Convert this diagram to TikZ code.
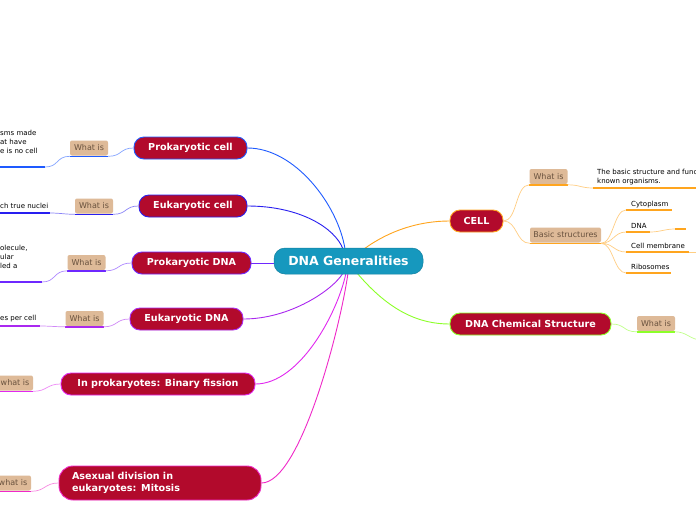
\documentclass[tikz,border=0pt]{standalone}
\usepackage{fontspec}
\setmainfont{DejaVu Sans}
\definecolor{redf}{RGB}{178,10,44}
\definecolor{teal1}{RGB}{22,152,190}
\definecolor{tanf}{RGB}{222,186,152}
\definecolor{tant}{RGB}{105,82,62}
\definecolor{bA}{RGB}{30,90,255}
\definecolor{bB}{RGB}{40,30,240}
\definecolor{bC}{RGB}{110,40,255}
\definecolor{bD}{RGB}{170,40,240}
\definecolor{bE}{RGB}{225,40,240}
\definecolor{bF}{RGB}{240,40,200}
\definecolor{orA}{RGB}{255,165,30}
\definecolor{grA}{RGB}{140,255,40}
\tikzset{
  mainbox/.style={rounded corners=10pt, fill=redf, text=white, font=\bfseries\fontsize{9.6}{12}\selectfont, line width=0.9pt, minimum height=22pt, inner sep=0pt},
  whatbox/.style={rounded corners=2pt, fill=tanf, text=tant, font=\fontsize{8}{8}\selectfont, minimum height=15pt, minimum width=38pt, inner sep=1pt},
  leaftext/.style={font=\fontsize{7}{9}\selectfont, align=left, inner sep=0pt, text=black},
  uline/.style={line width=1.4pt, #1},
  conn/.style={line width=0.9pt, #1},
  sub/.style={line width=0.7pt, #1!55},
}
\begin{document}
\begin{tikzpicture}[x=1pt,y=-1pt]
\useasboundingbox (0,0) rectangle (696,520);
\clip (0,0) rectangle (696,520);
\fill[white] (0,0) rectangle (696,520);

% coordinates on central node
\coordinate (cT1) at (345,249);
\coordinate (cT2) at (343,249);
\coordinate (cT3) at (364,249);
\coordinate (cB1) at (343,273);
\coordinate (cB2) at (346,273);
\coordinate (cB3) at (348,273);
\coordinate (cB4) at (357,273);

\node[mainbox, draw=bA, minimum width=113pt] (pc) at (190.5,148) {Prokaryotic cell};
\node[mainbox, draw=bB, minimum width=108pt] (ec) at (193,206) {Eukaryotic cell};
\node[mainbox, draw=bC, minimum width=119pt] (pd) at (191.5,263) {Prokaryotic DNA};
\node[mainbox, draw=bD, minimum width=113pt] (ed) at (186.5,319) {Eukaryotic DNA};
\node[mainbox, draw=bE, minimum width=194pt] (bf) at (158,384) {In prokaryotes: Binary fission};
\node[mainbox, draw=bF, minimum height=34pt, rounded corners=14pt, align=left, text width=176pt, inner xsep=13pt] (mi) at (160,483) {Asexual division in\\eukaryotes: Mitosis};
\node[mainbox, draw=orA, minimum width=53pt] (cell) at (476.5,221) {CELL};
\node[mainbox, draw=grA, minimum width=161pt] (dcs) at (530.5,324) {DNA Chemical Structure};

% main connectors
\draw[conn=bA] (pc.east) .. controls (295,148) and (338,205) .. (cT1);
\draw[conn=bB] (ec.east) .. controls (300,206) and (335,228) .. (cT2);
\draw[conn=bC] (pd.east) -- (274,263);
\draw[conn=bD] (ed.east) .. controls (290,319) and (333,290) .. (cB1);
\draw[conn=bE] (bf.east) .. controls (300,384) and (338,312) .. (cB2);
\draw[conn=bF] (mi.east) .. controls (300,483) and (340,330) .. (cB3);
\draw[conn=orA] (cT3) .. controls (390,230) and (420,221) .. (cell.west);
\draw[conn=grA] (cB4) .. controls (390,312) and (420,324) .. (dcs.west);

\node[rounded corners=11pt, fill=teal1, draw=teal1!85!black, line width=0.5pt, text=white, font=\bfseries\fontsize{12.5}{14}\selectfont, minimum width=149pt, minimum height=26pt, inner sep=0pt] (c) at (348.5,261) {DNA Generalities};

% What is nodes
\node[whatbox] (w1) at (89,148) {What is};
\node[whatbox] (w2) at (94,206) {What is};
\node[whatbox] (w3) at (86.5,262.5) {What is};
\node[whatbox] (w4) at (84.5,318.5) {What is};
\node[whatbox, minimum width=36pt] (w5) at (15,383) {what is};
\node[whatbox, minimum width=36pt] (w6) at (13,483) {what is};
\node[whatbox] (w7) at (548.5,176.5) {What is};
\node[whatbox, minimum width=71pt] (bs) at (565.5,235) {Basic structures};
\node[whatbox] (w8) at (656,323.5) {What is};

\foreach \n/\col in {w1/bA,w2/bB,w3/bC,w4/bD,w5/bE,w6/bF,w7/orA,bs/orA,w8/grA}{
  \draw[uline=\col] ([yshift=-0.6pt]\n.south west) -- ([yshift=-0.6pt]\n.south east);
}

% what-is to parent
\draw[sub=bA] ([yshift=-0.6pt]w1.south east) .. controls +(14,0) and +(-14,0) .. (pc.west);
\draw[sub=bB] ([yshift=-0.6pt]w2.south east) .. controls +(14,0) and +(-14,0) .. (ec.west);
\draw[sub=bC] ([yshift=-0.6pt]w3.south east) .. controls +(14,0) and +(-14,0) .. (pd.west);
\draw[sub=bD] ([yshift=-0.6pt]w4.south east) .. controls +(14,0) and +(-14,0) .. (ed.west);
\draw[sub=bE] ([yshift=-0.6pt]w5.south east) .. controls +(14,0) and +(-14,0) .. (bf.west);
\draw[sub=bF] ([yshift=-0.6pt]w6.south east) .. controls +(14,0) and +(-14,0) .. (mi.west);
\draw[sub=orA] (cell.east) .. controls +(14,0) and +(-14,0) .. ([yshift=-0.6pt]w7.south west);
\draw[sub=orA] (cell.east) .. controls +(14,0) and +(-14,0) .. ([yshift=-0.6pt]bs.south west);
\draw[sub=grA] (dcs.east) .. controls +(14,0) and +(-14,0) .. ([yshift=-0.6pt]w8.south west);

% left leaves
\coordinate (l1) at (45,167);
\draw[uline=bA] (0,167) -- (l1);
\draw[sub=bA] (l1) .. controls +(14,0) and +(-14,0) .. ([yshift=-0.6pt]w1.south west);
\node[leaftext, anchor=north west] (t1) at (0,130) {sms made\\at have\\e is no cell};

\coordinate (l2) at (50,213);
\draw[uline=bB] (0,213) -- (l2);
\draw[sub=bB] (l2) .. controls +(10,0) and +(-10,0) .. ([yshift=-0.6pt]w2.south west);
\node[leaftext, anchor=base west] (t2) at (0,208.5) {ch true nuclei};

\coordinate (l3) at (42,282);
\draw[uline=bC] (0,282) -- (l3);
\draw[sub=bC] (l3) .. controls +(14,0) and +(-14,0) .. ([yshift=-0.6pt]w3.south west);
\node[leaftext, anchor=north west] (t3) at (0,245) {olecule,\\ular\\led a};

\coordinate (l4) at (40,326);
\draw[uline=bD] (0,326) -- (l4);
\draw[sub=bD] (l4) .. controls +(10,0) and +(-10,0) .. ([yshift=-0.6pt]w4.south west);
\node[leaftext, anchor=base west] (t4) at (0,320.5) {es per cell};

% CELL leaves
\coordinate (l7) at (593,188);
\draw[sub=orA] ([yshift=-0.6pt]w7.south east) .. controls +(12,0) and +(-12,0) .. (l7);
\draw[uline=orA] (l7) -- (696,188);
\node[leaftext, anchor=north west] (t7) at (597,169) {The basic structure and func\\known organisms.};

\coordinate (s1) at (626,210);
\coordinate (s2) at (626,232);
\coordinate (s3) at (626,252);
\coordinate (s4) at (626,273);
\foreach \s in {s1,s2,s3,s4}{
  \draw[sub=orA] ([yshift=-0.6pt]bs.south east) .. controls +(12,0) and +(-12,0) .. (\s);
}
\draw[uline=orA] (s1) -- (672,210);
\draw[uline=orA] (s2) -- (650,232);
\draw[uline=orA] (s3) -- (689,252);
\draw[uline=orA] (s4) -- (671,273);
\coordinate (s2b) at (675,229);
\draw[sub=orA] (650,232) .. controls +(10,0) and +(-10,0) .. (s2b);
\draw[uline=orA] (s2b) -- (686,229);
\draw[sub=orA] (689,252) -- (700,252);
\node[leaftext, anchor=base west] (u1) at (631,206) {Cytoplasm};
\node[leaftext, anchor=base west] (u2) at (631,228) {DNA};
\node[leaftext, anchor=base west] (u3) at (631,248) {Cell membrane};
\node[leaftext, anchor=base west] (u4) at (631,269.5) {Ribosomes};

% DNA chem leaf (off canvas)
\draw[sub=grA] ([yshift=-0.6pt]w8.south east) .. controls +(12,0) and +(-12,0) .. (702,340);
\end{tikzpicture}
\end{document}
